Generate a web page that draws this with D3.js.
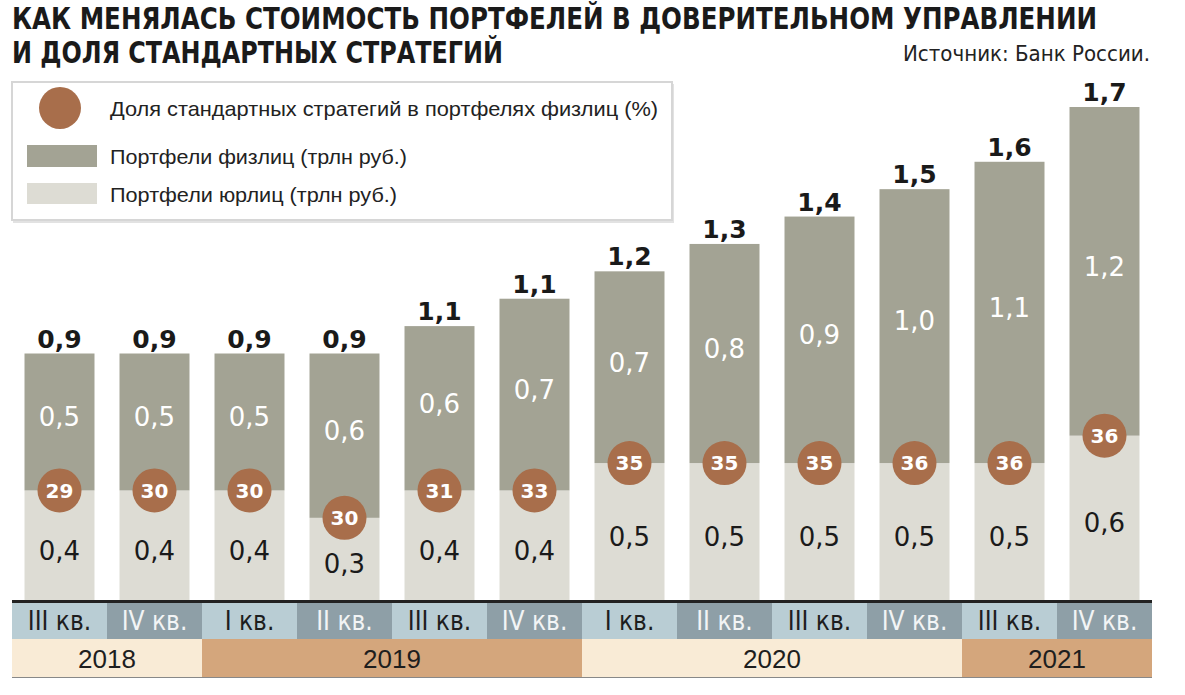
<!DOCTYPE html>
<html><head><meta charset="utf-8">
<script src="https://cdn.jsdelivr.net/npm/d3@7"></script>
<style>body{margin:0;background:#fff}</style>
</head><body>
<svg id="c" width="1185" height="695"></svg>
<script>
// ---- data ----
const quarters = ["III кв.","IV кв.","I кв.","II кв.","III кв.","IV кв.","I кв.","II кв.","III кв.","IV кв.","III кв.","IV кв."];
const years = ["2018","2019","2020","2021"];
const quartersPerYear = [2,4,4,2];
const legalPortfolios = [0.4,0.4,0.4,0.3,0.4,0.4,0.5,0.5,0.5,0.5,0.5,0.6];       // юрлица, трлн руб.
const individualPortfolios = [0.5,0.5,0.5,0.6,0.6,0.7,0.7,0.8,0.9,1.0,1.1,1.2];  // физлица, трлн руб.
const totalLabels = [0.9,0.9,0.9,0.9,1.1,1.1,1.2,1.3,1.4,1.5,1.6,1.7];
const standardShare = [29,30,30,30,31,33,35,35,35,36,36,36];                     // %
const legendItems = ["Доля стандартных стратегий в портфелях физлиц (%)","Портфели физлиц (трлн руб.)","Портфели юрлиц (трлн руб.)"];
const titleLines = ["КАК МЕНЯЛАСЬ СТОИМОСТЬ ПОРТФЕЛЕЙ В ДОВЕРИТЕЛЬНОМ УПРАВЛЕНИИ","И ДОЛЯ СТАНДАРТНЫХ СТРАТЕГИЙ"];
const sourceText = "Источник: Банк России.";

// ---- styles ----
const C = {phys:"#a3a394", legal:"#dddcd4", circle:"#a86e4b", qLight:"#b9cdd4", qDark:"#8e9fa7",
           yLight:"#f9ebd6", yDark:"#d4a67c", text:"#1a1a1a"};
const numFont = "'DejaVu Sans', sans-serif";
const condFont = "'Liberation Sans Narrow','DejaVu Sans Condensed', sans-serif";

const svg = d3.select("#c");
const idx = d3.range(quarters.length);
const cells = d3.scaleBand().domain(idx).range([12,1152]).padding(0);
const x = d3.scaleBand().domain(idx).range([12,1152]).paddingInner(0.2632).paddingOuter(0.1316);
const totals = idx.map(i => legalPortfolios[i] + individualPortfolios[i]);
const y = d3.scaleLinear().domain([0, d3.max(totals)]).range([600,107]);
const fmt = v => d3.format(".1f")(v).replace(".", ",");

// title
svg.selectAll("text.title").data(titleLines).join("text")
  .attr("x",12).attr("y",(d,i)=>29+i*34)
  .attr("font-family",condFont).attr("font-weight","bold").attr("font-size",29.5)
  .attr("fill",C.text)
  .attr("textLength",(d,i)=> i===0?1085:491).attr("lengthAdjust","spacingAndGlyphs")
  .text(d=>d);
svg.append("text").attr("x",1150).attr("y",61).attr("text-anchor","end")
  .attr("font-family",condFont).attr("font-size",22).attr("fill","#222")
  .attr("textLength",247).attr("lengthAdjust","spacingAndGlyphs").text(sourceText);

// legend
const lg = svg.append("g");
lg.append("rect").attr("x",13).attr("y",84).attr("width",661).attr("height",139).attr("fill","#e2e2e2");
lg.append("rect").attr("x",12).attr("y",82).attr("width",660).attr("height",138)
  .attr("fill","#fff").attr("stroke","#d6d6d6").attr("stroke-width",2);
lg.append("circle").attr("cx",60).attr("cy",108).attr("r",21).attr("fill",C.circle);
lg.append("rect").attr("x",27).attr("y",145).attr("width",70).attr("height",22).attr("fill",C.phys);
lg.append("rect").attr("x",27).attr("y",183).attr("width",70).attr("height",21).attr("fill",C.legal);
const lw = [548,297,287];
lg.selectAll("text").data(legendItems).join("text")
  .attr("x",110).attr("y",(d,i)=>[116,164,202][i])
  .attr("font-family","'Liberation Sans', Arial, sans-serif").attr("font-size",21).attr("fill","#222")
  .attr("textLength",(d,i)=>lw[i]).attr("lengthAdjust","spacingAndGlyphs")
  .text(d=>d);

// bars
const bars = svg.append("g");
bars.selectAll("rect.legal").data(idx).join("rect").attr("class","legal")
  .attr("x",i=>x(i)).attr("width",x.bandwidth())
  .attr("y",i=>y(legalPortfolios[i])).attr("height",i=>y(0)-y(legalPortfolios[i]))
  .attr("fill",C.legal);
bars.selectAll("rect.phys").data(idx).join("rect").attr("class","phys")
  .attr("x",i=>x(i)).attr("width",x.bandwidth())
  .attr("y",i=>y(totals[i])).attr("height",i=>y(legalPortfolios[i])-y(totals[i]))
  .attr("fill",C.phys);

// value labels
bars.selectAll("text.tot").data(idx).join("text").attr("class","tot")
  .attr("x",i=>x(i)+x.bandwidth()/2).attr("y",i=>y(totals[i])-6)
  .attr("text-anchor","middle").attr("font-family",numFont).attr("font-weight","bold")
  .attr("font-size",25).attr("fill",C.text).text(i=>fmt(totalLabels[i]));
bars.selectAll("text.ph").data(idx).join("text").attr("class","ph")
  .attr("x",i=>x(i)+x.bandwidth()/2)
  .attr("y",i=>(y(totals[i])+y(legalPortfolios[i]))/2 - 5)
  .attr("dy","0.36em")
  .attr("text-anchor","middle").attr("font-family",numFont)
  .attr("font-size",26).attr("fill","#fff").text(i=>fmt(individualPortfolios[i]));
bars.selectAll("text.lg").data(idx).join("text").attr("class","lg")
  .attr("x",i=>x(i)+x.bandwidth()/2)
  .attr("y",i=>(y(0)+y(legalPortfolios[i]))/2 + 5)
  .attr("dy","0.36em")
  .attr("text-anchor","middle").attr("font-family",numFont)
  .attr("font-size",26).attr("fill",C.text).text(i=>fmt(legalPortfolios[i]));

// share circles
bars.selectAll("circle").data(idx).join("circle")
  .attr("cx",i=>x(i)+x.bandwidth()/2).attr("cy",i=>y(legalPortfolios[i]))
  .attr("r",22).attr("fill",C.circle);
bars.selectAll("text.sh").data(idx).join("text").attr("class","sh")
  .attr("x",i=>x(i)+x.bandwidth()/2).attr("y",i=>y(legalPortfolios[i]))
  .attr("dy","0.36em").attr("text-anchor","middle").attr("font-family",numFont)
  .attr("font-weight","bold").attr("font-size",20).attr("fill","#fff").text(i=>standardShare[i]);

// quarter band
const qb = svg.append("g");
qb.selectAll("rect").data(idx).join("rect")
  .attr("x",i=>cells(i)).attr("width",cells.bandwidth()).attr("y",603).attr("height",36)
  .attr("fill",i=>i%2===0?C.qLight:C.qDark);
qb.selectAll("text").data(idx).join("text")
  .attr("x",i=>cells(i)+cells.bandwidth()/2).attr("y",630)
  .attr("text-anchor","middle").attr("font-family",condFont).attr("font-size",26)
  .attr("fill",i=>i%2===0?"#1e1e1e":"#f2f4f5").text(i=>quarters[i]);
svg.append("rect").attr("x",12).attr("y",600).attr("width",1140).attr("height",3).attr("fill","#222");

// year band
let start = 0;
const yearSpans = years.map((yv,k)=>{ const s=start; start+=quartersPerYear[k]; return {year:yv,s,e:start-1,k}; });
const yb = svg.append("g");
yb.selectAll("rect").data(yearSpans).join("rect")
  .attr("x",d=>cells(d.s)).attr("width",d=>cells(d.e)+cells.bandwidth()-cells(d.s))
  .attr("y",639).attr("height",38).attr("fill",d=>d.k%2===0?C.yLight:C.yDark);
yb.selectAll("text").data(yearSpans).join("text")
  .attr("x",d=>(cells(d.s)+cells(d.e)+cells.bandwidth())/2).attr("y",668)
  .attr("text-anchor","middle").attr("font-family","'Liberation Sans', Arial, sans-serif")
  .attr("font-size",26).attr("fill","#1e1e1e").text(d=>d.year);
svg.append("rect").attr("x",12).attr("y",677).attr("width",1140).attr("height",1).attr("fill","#888");
</script>
</body></html>
